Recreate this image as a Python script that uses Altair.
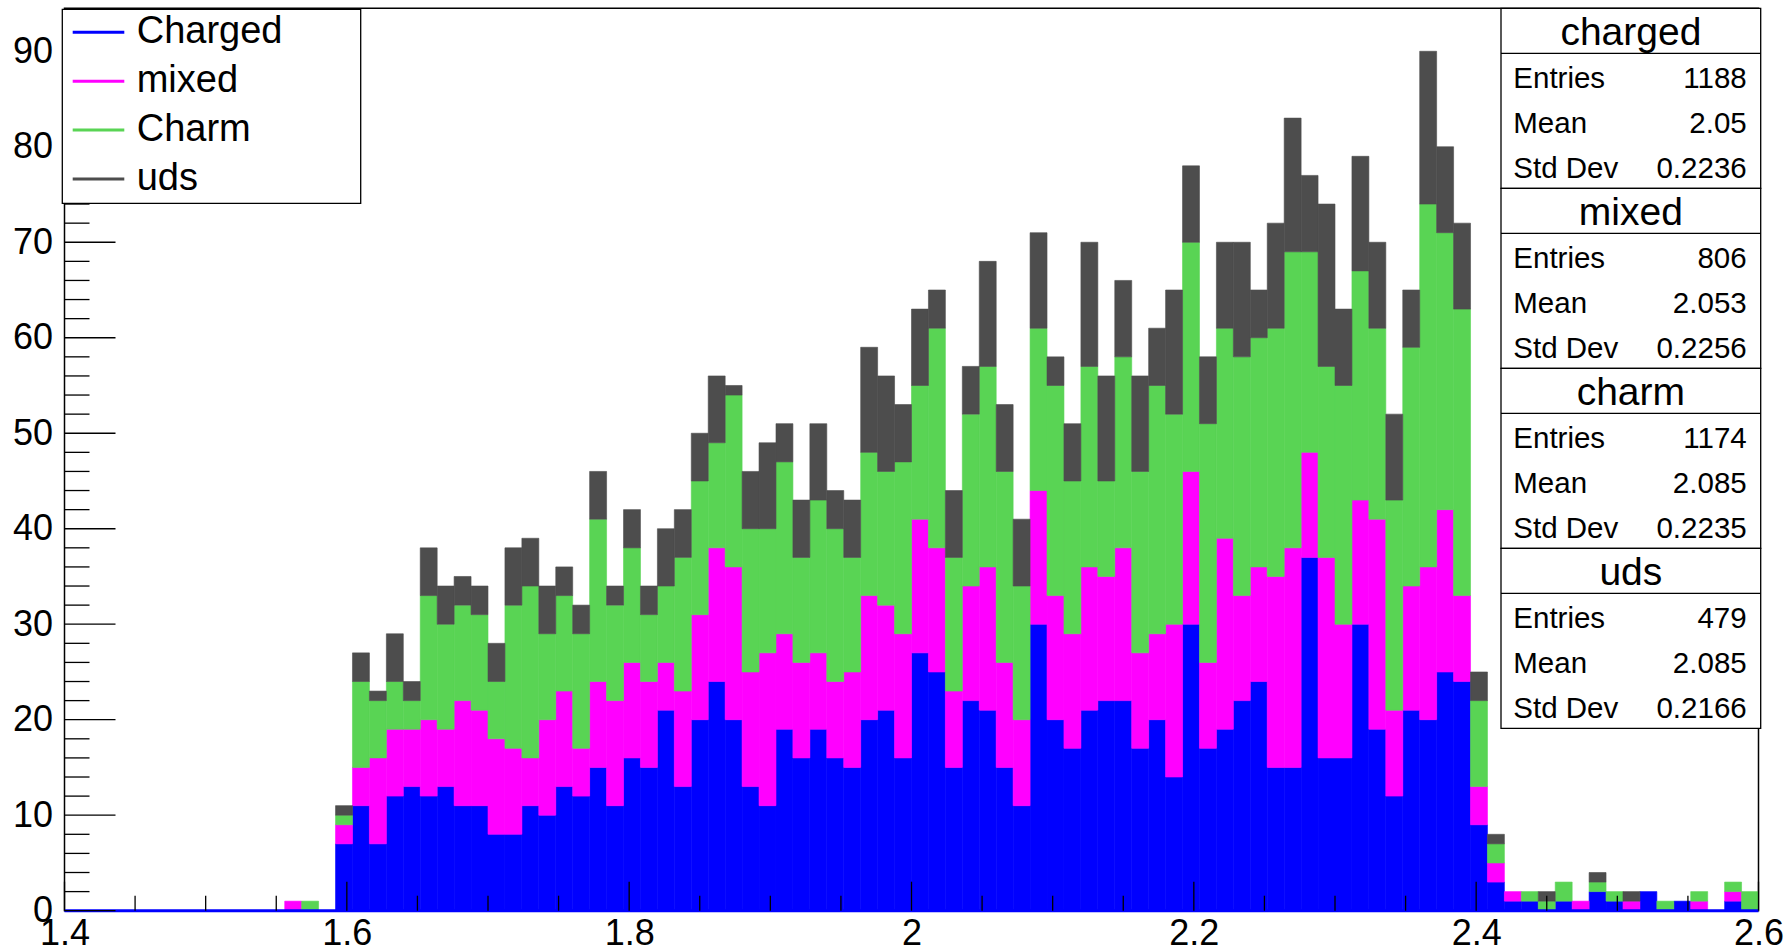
import altair as alt
import pandas as pd

# Histogram binning: 100 bins of width 0.012 between 1.4 and 2.6
x_min, x_max, n_bins = 1.4, 2.6, 100

# Bin contents per sample (bins 0..99)
charged = [0] * 16 + [
    7, 11, 7, 12, 13, 12, 13, 11, 11, 8, 8, 11, 10, 13, 12, 15,
    11, 16, 15, 21, 13, 20, 24, 20, 13, 11, 19, 16, 19, 16,
    15, 20, 21, 16, 27, 25, 15, 22, 21, 15, 11, 30, 20, 17, 21,
    22, 22, 17, 20, 14, 30, 17, 19, 22, 24, 15, 15, 37, 16, 16,
    30, 19, 12, 21, 20, 25, 24, 9, 3,
    1, 1, 0, 1, 0, 2, 1, 0, 2, 0, 1, 0, 0, 1, 0,
]
mixed = [0] * 13 + [1, 0, 0] + [
    2, 4, 9, 7, 6, 8, 6, 11, 10, 10, 9, 5, 10, 10, 5, 9,
    11, 10, 9, 5, 10, 11, 14, 16, 12, 16, 10, 10, 8, 8,
    10, 13, 11, 13, 14, 13, 8, 12, 15, 11, 9, 14, 13, 12, 15,
    13, 16, 10, 9, 16, 16, 9, 20, 11, 12, 20, 23, 11, 21, 14,
    13, 22, 9, 13, 16, 17, 9, 4, 2,
    1, 0, 0, 0, 1, 0, 0, 1, 0, 0, 0, 1, 0, 1, 0,
]
charm = [0] * 14 + [1, 0] + [
    1, 9, 6, 5, 3, 13, 11, 10, 10, 6, 15, 18, 9, 10, 12, 17,
    10, 12, 7, 8, 14, 14, 11, 18, 15, 13, 18, 11, 16, 16,
    12, 15, 14, 18, 14, 23, 14, 18, 21, 20, 14, 17, 22, 16, 21,
    10, 20, 19, 26, 22, 24, 25, 22, 25, 24, 26, 31, 21, 20, 25,
    24, 20, 22, 25, 38, 29, 30, 9, 2,
    0, 1, 1, 2, 0, 1, 1, 0, 0, 1, 0, 1, 0, 1, 2,
]
uds = [0] * 16 + [
    1, 3, 1, 5, 2, 5, 4, 3, 3, 4, 6, 5, 5, 3, 3, 5,
    2, 4, 3, 6, 5, 5, 7, 1, 6, 9, 4, 6, 8, 4,
    6, 11, 10, 6, 8, 4, 7, 5, 11, 7, 7, 10, 3, 6, 13,
    11, 8, 10, 6, 13, 8, 7, 9, 12, 5, 11, 14, 8, 17, 8,
    12, 9, 9, 6, 16, 9, 9, 3, 1,
    0, 0, 1, 0, 0, 1, 0, 1, 0, 0, 0, 0, 0, 0, 0,
]

series_names = ["Charged", "mixed", "Charm", "uds"]
series_colors = ["#0000ff", "#ff00ff", "#59d454", "#4d4d4d"]

# Statistics boxes
stat_titles = ["charged", "mixed", "charm", "uds"]
stat_entries = ["1188", "806", "1174", "479"]
stat_means = ["2.05", "2.053", "2.085", "2.085"]
stat_stds = ["0.2236", "0.2256", "0.2235", "0.2166"]

# Axis ticks
x_major = [1.4, 1.6, 1.8, 2.0, 2.2, 2.4, 2.6]
x_minor = [1.45, 1.5, 1.55, 1.65, 1.7, 1.75, 1.85, 1.9, 1.95, 2.05, 2.1,
           2.15, 2.25, 2.3, 2.35, 2.45, 2.5, 2.55]
y_major = [0, 10, 20, 30, 40, 50, 60, 70, 80, 90]
y_minor = [2, 4, 6, 8, 12, 14, 16, 18, 22, 24, 26, 28, 32, 34, 36, 38,
           42, 44, 46, 48, 52, 54, 56, 58, 62, 64, 66, 68, 72, 74, 76, 78,
           82, 84, 86, 88, 92, 94]

W, H = 1694, 902.4
FONT = "Liberation Sans"
y_top = 94.5

bin_w = (x_max - x_min) / n_bins
rows = []
for j, (name, vals) in enumerate(zip(series_names, [charged, mixed, charm, uds])):
    for i, c in enumerate(vals):
        rows.append({"lo": x_min + i * bin_w, "hi": x_min + (i + 1) * bin_w,
                     "count": c, "series": name, "order": j})
hist = pd.DataFrame(rows)

xscale = alt.Scale(domain=[x_min, x_max], nice=False, zero=False)
yscale = alt.Scale(domain=[0, y_top], nice=False, zero=True)
cscale = alt.Scale(domain=series_names, range=series_colors)

bars = (
    alt.Chart(hist)
    .transform_filter("datum.count > 0")
    .transform_stack(stack="count", groupby=["lo"], as_=["y0", "y1"],
                     sort=[alt.SortField("order", order="ascending")])
    .mark_rect(strokeWidth=0.6)
    .encode(
        x=alt.X("lo:Q", scale=xscale,
                axis=alt.Axis(values=x_major, format="~g", ticks=False, domain=False,
                              grid=False, labelFontSize=36, labelFont=FONT,
                              labelColor="black", labelPadding=6, labelFlush=False,
                              labelOverlap=False, title=None)),
        x2="hi:Q",
        y=alt.Y("y0:Q", scale=yscale,
                axis=alt.Axis(values=y_major, format="d", ticks=False, domain=False,
                              grid=False, labelFontSize=36, labelFont=FONT,
                              labelColor="black", labelPadding=12, labelFlush=False,
                              labelOverlap=False, title=None)),
        y2="y1:Q",
        color=alt.Color("series:N", scale=cscale, legend=None),
        stroke=alt.Color("series:N", scale=cscale, legend=None),
    )
)

# zero line of the first histogram
zero_df = pd.DataFrame({"lo": [x_min], "hi": [x_max]})
zero_line = alt.Chart(zero_df).mark_rule(color="#0000ff", strokeWidth=3).encode(
    x=alt.X("lo:Q", scale=xscale), x2="hi:Q", y=alt.value(H)
)

# inward ticks
xmaj = alt.Chart(pd.DataFrame({"v": x_major})).mark_rule(color="black", strokeWidth=1.3).encode(
    x=alt.X("v:Q", scale=xscale), y=alt.value(H), y2=alt.value(H - 29))
xmin_t = alt.Chart(pd.DataFrame({"v": x_minor})).mark_rule(color="black", strokeWidth=1.3).encode(
    x=alt.X("v:Q", scale=xscale), y=alt.value(H), y2=alt.value(H - 15))
ymaj = alt.Chart(pd.DataFrame({"v": y_major})).mark_rule(color="black", strokeWidth=1.3).encode(
    y=alt.Y("v:Q", scale=yscale, axis=None), x=alt.value(0), x2=alt.value(51))
ymin_t = alt.Chart(pd.DataFrame({"v": y_minor})).mark_rule(color="black", strokeWidth=1.3).encode(
    y=alt.Y("v:Q", scale=yscale, axis=None), x=alt.value(0), x2=alt.value(25))

# legend box
leg_df = pd.DataFrame({"series": series_names, "row": list(range(len(series_names)))})
leg_scale = alt.Scale(domain=[0, 3], range=[24, 170.7])
leg_box = alt.Chart(pd.DataFrame({"a": [0]})).mark_rect(
    fill="white", stroke="black", strokeWidth=1.3).encode(
    x=alt.value(-2.2), x2=alt.value(296.2), y=alt.value(1), y2=alt.value(195))
leg_lines = alt.Chart(leg_df).mark_rule(strokeWidth=3).encode(
    x=alt.value(8.2), x2=alt.value(59.8),
    y=alt.Y("row:Q", scale=leg_scale, axis=None),
    color=alt.Color("series:N", scale=cscale, legend=None))
leg_text = alt.Chart(leg_df).mark_text(
    align="left", baseline="middle", font=FONT, fontSize=38, color="black").encode(
    x=alt.value(72.2), y=alt.Y("row:Q", scale=leg_scale, axis=None), text="series:N")

# statistics boxes
n_box = len(stat_titles)
box_df = pd.DataFrame({"b": list(range(n_box)), "b1": [b + 1 for b in range(n_box)],
                       "sep": [b + 0.25 for b in range(n_box)]})
st_scale = alt.Scale(domain=[0, n_box], range=[0, 180 * n_box])
bx0, bx1 = 1436.5, 1696.2
st_boxes = alt.Chart(box_df).mark_rect(fill="white", stroke="black", strokeWidth=1.3).encode(
    x=alt.value(bx0), x2=alt.value(bx1),
    y=alt.Y("b:Q", scale=st_scale, axis=None), y2="b1:Q")
st_sep = alt.Chart(box_df).mark_rule(color="black", strokeWidth=1.3).encode(
    x=alt.value(bx0), x2=alt.value(bx1), y=alt.Y("sep:Q", scale=st_scale, axis=None))

title_rows, line_rows = [], []
for b in range(n_box):
    title_rows.append({"pos": b + 0.125, "txt": stat_titles[b]})
    for r, (lab, val) in enumerate(zip(["Entries", "Mean", "Std Dev"],
                                       [stat_entries[b], stat_means[b], stat_stds[b]])):
        line_rows.append({"pos": b + (r + 1.5) / 4, "lab": lab, "val": val})
title_df = pd.DataFrame(title_rows)
line_df = pd.DataFrame(line_rows)

st_title = alt.Chart(title_df).mark_text(
    align="center", baseline="middle", font=FONT, fontSize=39, color="black", dy=2).encode(
    x=alt.value((bx0 + bx1) / 2), y=alt.Y("pos:Q", scale=st_scale, axis=None), text="txt:N")
st_lab = alt.Chart(line_df).mark_text(
    align="left", baseline="middle", font=FONT, fontSize=29.5, color="black", dy=3).encode(
    x=alt.value(1448.8), y=alt.Y("pos:Q", scale=st_scale, axis=None), text="lab:N")
st_val = alt.Chart(line_df).mark_text(
    align="right", baseline="middle", font=FONT, fontSize=29.5, color="black", dy=3).encode(
    x=alt.value(1682.2), y=alt.Y("pos:Q", scale=st_scale, axis=None), text="val:N")

chart = (
    alt.layer(bars, zero_line, xmaj, xmin_t, ymaj, ymin_t,
              leg_box, leg_lines, leg_text,
              st_boxes, st_sep, st_title, st_lab, st_val)
    .resolve_scale(y="independent")
    .properties(
        width=W, height=H,
        autosize=alt.AutoSizeParams(type="none"),
        padding={"left": 64.5, "top": 8.3, "right": 1787 - 64.5 - W, "bottom": 951 - 8.3 - H},
        background="white",
    )
    .configure_view(stroke="black", strokeWidth=1.5)
)

chart.save("out.html", embed_options={"renderer": "svg", "actions": False})
